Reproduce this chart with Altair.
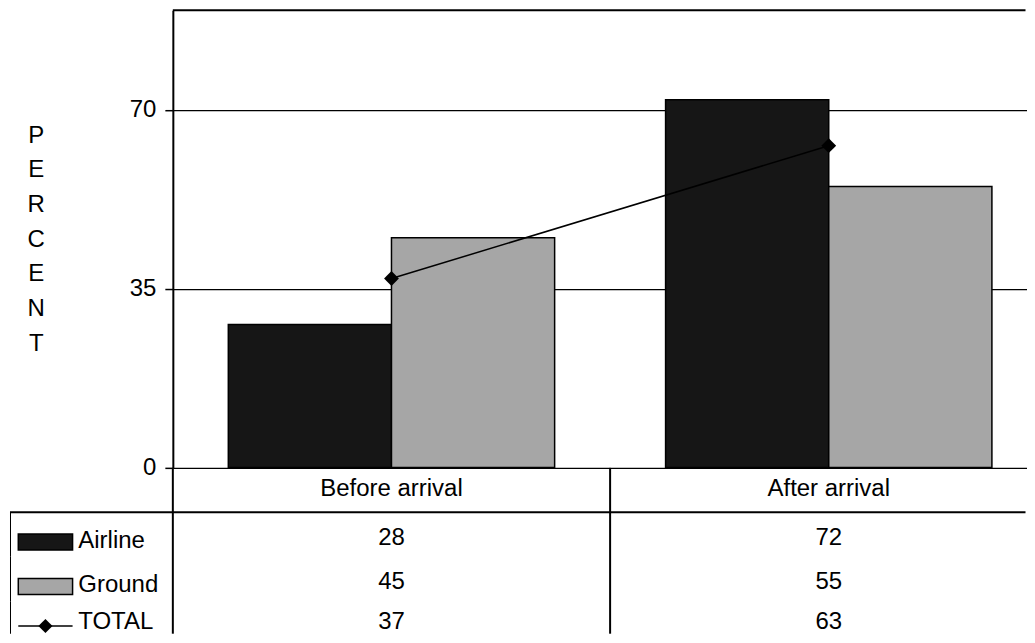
import altair as alt
import pandas as pd

# ---- data ----
periods = ["Before arrival", "After arrival"]
series = ["Airline", "Ground"]
airline = [28, 72]
ground = [45, 55]
total = [37, 63]
row_labels = ["Airline", "Ground", "TOTAL"]
y_ticks = [0, 35, 70]

FONT = "Liberation Sans"
FS = 24
BAR_COLORS = ["#161616", "#a6a6a6"]
Y_MAX = 89.5

W0 = 162.7      # legend column width
W1 = 853.5      # visible plot width (the reference is cut at the right edge)
X_RANGE = 875.4 # full width of the two category bands
H1 = 457.7      # plot height
H2 = 166        # visible table height
ROW_RANGE = 178 # full height of the table's four rows

bars_df = pd.DataFrame({
    "period": periods * 2,
    "series": ["Airline"] * 2 + ["Ground"] * 2,
    "value": airline + ground,
})
total_df = pd.DataFrame({"period": periods, "value": total})

header_df = pd.DataFrame({"period": periods, "row": ["head"] * 2, "text": periods})
cells_df = pd.DataFrame({
    "period": periods * 3,
    "row": ["Airline"] * 2 + ["Ground"] * 2 + ["TOTAL"] * 2,
    "text": [str(v) for v in airline + ground + total],
})
leg_df = pd.DataFrame({"row": row_labels})
table_rows = ["head"] + row_labels

x_scale = alt.Scale(domain=periods, range=[0, X_RANGE], paddingInner=0, paddingOuter=0)
row_scale = alt.Scale(domain=table_rows, range=[0, ROW_RANGE], paddingInner=0, paddingOuter=0)
is_total = alt.datum.row == "TOTAL"
not_total = alt.datum.row != "TOTAL"

# ---- top chart ----
x_period = alt.X("period:N", sort=periods, scale=x_scale, axis=None)
y_scale = alt.Scale(domain=[0, Y_MAX], nice=False, zero=True)
y_val = alt.Y(
    "value:Q",
    scale=y_scale,
    axis=alt.Axis(
        values=y_ticks,
        grid=True, gridColor="black", gridOpacity=1, gridWidth=1.3,
        tickColor="black", tickSize=8, tickWidth=1.5,
        domain=True, domainColor="black", domainWidth=2,
        labelFontSize=FS, labelColor="black", labelPadding=9, labelFont=FONT,
        title=list("PERCENT"), titleAngle=0, titleAlign="center", titleBaseline="middle",
        titleX=-137.2, titleY=125, titleFontSize=FS, titleFontWeight="normal",
        titleLineHeight=34.7, titleColor="black", titleFont=FONT,
    ),
)

bars = alt.Chart(bars_df).mark_bar(stroke="black", strokeWidth=1.5).encode(
    x=x_period,
    xOffset=alt.XOffset("series:N", sort=series,
                        scale=alt.Scale(domain=series, paddingInner=0, paddingOuter=0.34)),
    y=y_val,
    fill=alt.Fill("series:N", scale=alt.Scale(domain=series, range=BAR_COLORS), legend=None),
)
line = alt.Chart(total_df).mark_line(color="black", strokeWidth=1.5).encode(x=x_period, y=y_val)
pts = alt.Chart(total_df).mark_point(shape="diamond", filled=True, color="black",
                                     size=220, opacity=1).encode(x=x_period, y=y_val)
top_border = alt.Chart(total_df.head(1)).mark_rule(color="black", strokeWidth=2).encode(
    y=alt.YDatum(Y_MAX, type="quantitative", scale=y_scale))

top = alt.layer(bars, line, pts, top_border).properties(width=W1, height=H1)

# ---- table chart ----
x_tab = alt.X("period:N", sort=periods, scale=x_scale, axis=None)
y_tab = alt.Y("row:N", sort=table_rows, scale=row_scale, axis=None)

vlines = alt.Chart(pd.DataFrame({"period": periods})).mark_rule(
    color="black", strokeWidth=2).encode(
    x=alt.X("period:N", sort=periods, scale=x_scale, axis=None, bandPosition=0))
hline_tab = alt.Chart(pd.DataFrame({"row": ["Airline"]})).mark_rule(
    color="black", strokeWidth=2).encode(
    y=alt.Y("row:N", sort=table_rows, scale=row_scale, axis=None, bandPosition=0))

head_txt = alt.Chart(header_df).mark_text(fontSize=FS, font=FONT, color="black", yOffset=-1,
                                          clip=True).encode(
    x=x_tab, y=y_tab, text="text:N")
cell_base = alt.Chart(cells_df)
cell_txt = cell_base.transform_filter(not_total).mark_text(
    fontSize=FS, font=FONT, color="black", yOffset=3.5, clip=True).encode(
    x=x_tab, y=y_tab, text="text:N")
cell_txt_total = cell_base.transform_filter(is_total).mark_text(
    fontSize=FS, font=FONT, color="black", yOffset=-1, clip=True).encode(
    x=x_tab, y=y_tab, text="text:N")

table = alt.layer(vlines, hline_tab, head_txt, cell_txt, cell_txt_total).properties(
    width=W1, height=H2)

# ---- legend column ----
SYM_X0, SYM_X1, SYM_MID, LAB_X = 0.051, 0.385, 0.218, 0.42
xs = alt.Scale(domain=[0, 1], nice=False, zero=False)
y_leg = alt.Y("row:N", sort=table_rows, scale=row_scale, axis=None)

leg_base = alt.Chart(leg_df)
border = leg_base.mark_rect(fillOpacity=0, stroke="black", strokeWidth=2, clip=True).encode(
    x=alt.XDatum(0, type="quantitative", scale=xs, axis=None),
    x2=alt.X2Datum(0),
    y=y_leg,
)
hline_leg = alt.Chart(pd.DataFrame({"row": ["Airline"]})).mark_rule(
    color="black", strokeWidth=2).encode(
    y=alt.Y("row:N", sort=table_rows, scale=row_scale, axis=None, bandPosition=0))
sym_bars = leg_base.transform_filter(not_total).mark_bar(
    height=16, stroke="black", strokeWidth=1.5, yOffset=7.5, clip=True).encode(
    x=alt.XDatum(SYM_X0, type="quantitative", scale=xs, axis=None),
    x2=alt.X2Datum(SYM_X1),
    y=y_leg,
    fill=alt.Fill("row:N", scale=alt.Scale(domain=series, range=BAR_COLORS), legend=None),
)
sym_line = leg_base.transform_filter(is_total).mark_rule(
    color="black", strokeWidth=1.5, yOffset=2.5, clip=True).encode(
    x=alt.XDatum(SYM_X0, type="quantitative", scale=xs, axis=None),
    x2=alt.X2Datum(SYM_X1),
    y=y_leg,
)
sym_pt = leg_base.transform_filter(is_total).mark_point(
    shape="diamond", filled=True, color="black", size=200, opacity=1, yOffset=2.5,
    clip=True).encode(
    x=alt.XDatum(SYM_MID, type="quantitative", scale=xs, axis=None),
    y=y_leg,
)
leg_txt = leg_base.transform_filter(not_total).mark_text(
    align="left", fontSize=FS, font=FONT, color="black", yOffset=6, clip=True).encode(
    x=alt.XDatum(LAB_X, type="quantitative", scale=xs, axis=None),
    y=y_leg,
    text="row:N",
)
leg_txt_total = leg_base.transform_filter(is_total).mark_text(
    align="left", fontSize=FS, font=FONT, color="black", yOffset=-1, clip=True).encode(
    x=alt.XDatum(LAB_X, type="quantitative", scale=xs, axis=None),
    y=y_leg,
    text="row:N",
)
legcol = alt.layer(border, hline_leg, sym_bars, sym_line, sym_pt, leg_txt, leg_txt_total).properties(
    width=W0, height=H2)

# ---- spacer (top-left cell) ----
spacer = alt.Chart(pd.DataFrame({"v": pd.Series([], dtype=float)})).mark_point().encode(
    x=alt.X("v:Q", axis=None), y=alt.Y("v:Q", axis=None)
).properties(width=W0, height=H1)

chart = alt.concat(
    spacer, top, legcol, table, columns=2, spacing=0, bounds="flush", align="each"
).resolve_scale(
    x="independent", y="independent"
).properties(
    padding={"left": 0, "top": 0, "right": 0, "bottom": 0}
).configure(
    font=FONT
).configure_view(
    stroke="transparent"
)

chart.save("out.html", embed_options={"renderer": "svg", "actions": False})
